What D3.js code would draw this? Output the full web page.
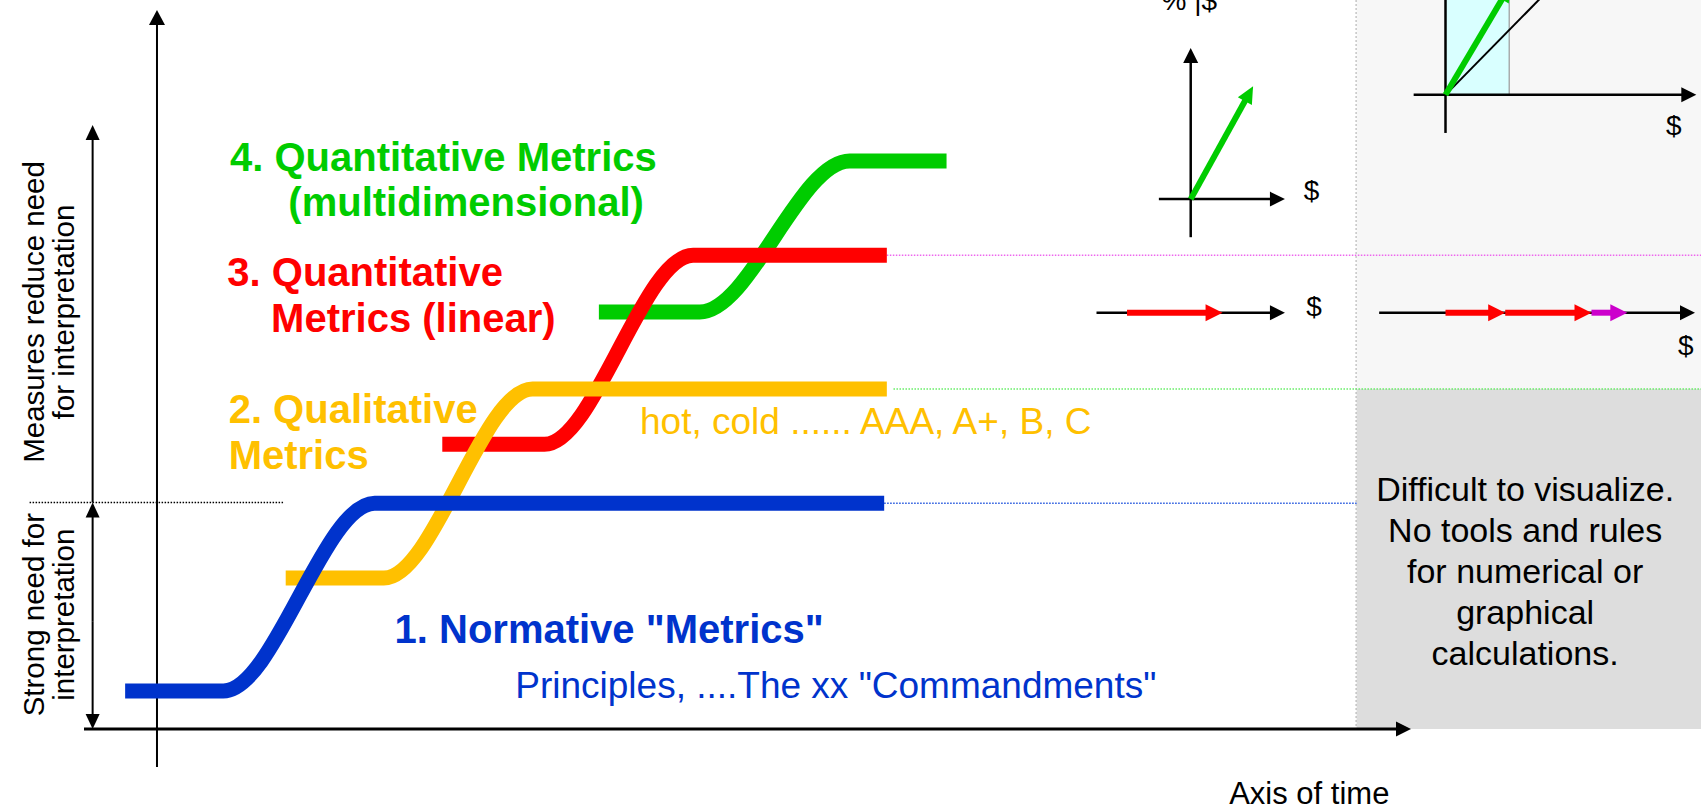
<!DOCTYPE html>
<html>
<head>
<meta charset="utf-8">
<script src="https://cdn.jsdelivr.net/npm/d3@7"></script>
<style>
  body { margin: 0; background: #fff; }
  text { font-family: "Liberation Sans", Arial, sans-serif; }
</style>
</head>
<body>
<svg id="chart"></svg>
<script>
// ---------------- data ----------------
// four stages of metrics, each one steps from a low to a high level over time
var stageColors = ["#0033cc", "#ffc000", "#ff0000", "#00cc00"];
// time points: start, bend start, bend end, end  (time axis 0..100)
var stageTimes = [
    [3.1, 10.5, 21.9, 60.3],
    [15.2, 22.6, 33.8, 60.5],
    [27.0, 34.7, 45.9, 60.5],
    [38.8, 46.4, 57.7, 65.0]
];
// level before and after the step  (vertical axis 0..100)
var stageLevels = [
    [5.3, 31.4],
    [21.0, 47.3],
    [39.6, 65.9],
    [58.0, 79.0]
];
var stageLabels = [
    ['1. Normative "Metrics"'],
    ["2. Qualitative", "Metrics"],
    ["3. Quantitative", "Metrics (linear)"],
    ["4. Quantitative Metrics", "(multidimensional)"]
];
var stageNotes = ['Principles, ....The xx "Commandments"', "hot, cold ...... AAA, A+, B, C"];

// dotted guides carried to the right from the plateaus
var guideStart = [60.3, 61.0, 60.5];
var guideLevel = [31.4, 47.3, 65.9];
var guideColors = ["#2255dd", "#66ee66", "#ee66ee"];

var interpretThreshold = 31.5;
var hardZoneStart = 95.9;
var hardZoneNote = ["Difficult to visualize.", "No tools and rules", "for numerical or", "graphical", "calculations."];

// 1-D money arrows (linear metrics)
var linearLevel = 57.9;
var linearAxisA = [76.3, 90.5];
var linearStepsA = [[78.6, 85.8]];
var linearColorsA = ["#ff0000"];
var linearAxisB = [97.6, 121.4];
var linearStepsB = [[102.6, 107.1], [107.1, 113.6], [113.6, 116.3]];
var linearColorsB = ["#ff0000", "#ff0000", "#cc00cc"];

// 2-D vector diagrams (multidimensional metrics)
var vecOriginA = [83.4, 73.7];
var vecAxisXA = [81.0, 90.5];
var vecAxisYA = [68.4, 94.7];
var vecTipA = [88.1, 89.4];

var vecOriginB = [102.6, 88.2];
var vecAxisXB = [100.2, 121.5];
var vecAxisYB = [82.9, 106];
var vecBandB = [102.6, 107.4];
var vecTipB = [107.5, 103.5];
var vecRayB = [110.0, 102.1];

// ---------------- drawing ----------------
var W = 1701, H = 809;
var svg = d3.select("#chart").attr("width", W).attr("height", H);
svg.append("rect").attr("width", W).attr("height", H).attr("fill", "#fff");

var x = d3.scaleLinear().domain([0, 100]).range([84, 1411]);
var y = d3.scaleLinear().domain([0, 100]).range([729, 10]);

// line from p1 to p2 with a filled head at p2 (pixel coords)
function arrow(g, x1, y1, x2, y2, o) {
    var a = Math.atan2(y2 - y1, x2 - x1);
    var bx = x2 - o.len * Math.cos(a), by = y2 - o.len * Math.sin(a);
    var px = -Math.sin(a) * o.half, py = Math.cos(a) * o.half;
    g.append("line")
        .attr("x1", x1).attr("y1", y1).attr("x2", bx + Math.cos(a)).attr("y2", by + Math.sin(a))
        .attr("stroke", o.color).attr("stroke-width", o.width);
    g.append("path")
        .attr("d", "M" + x2 + "," + y2 + "L" + (bx + px) + "," + (by + py) + "L" + (bx - px) + "," + (by - py) + "Z")
        .attr("fill", o.color);
}

// grey zone on the right
var zone = svg.append("g");
zone.append("rect")
    .attr("x", x(hardZoneStart)).attr("y", 0)
    .attr("width", W - x(hardZoneStart)).attr("height", y(guideLevel[1]))
    .attr("fill", "#f7f7f7");
zone.append("rect")
    .attr("x", x(hardZoneStart)).attr("y", y(guideLevel[1]))
    .attr("width", W - x(hardZoneStart)).attr("height", y(0) - y(guideLevel[1]))
    .attr("fill", "#dddddd");
zone.append("line")
    .attr("x1", x(hardZoneStart) - 0.5).attr("x2", x(hardZoneStart) - 0.5)
    .attr("y1", 0).attr("y2", y(0))
    .attr("stroke", "#aaaaaa").attr("stroke-width", 1).attr("stroke-dasharray", "2,2");
zone.selectAll("text.note")
    .data(hardZoneNote).enter().append("text")
    .attr("x", x(108.6)).attr("y", function (d, i) { return y(31.7) + i * 41; })
    .attr("text-anchor", "middle").attr("font-size", 34).attr("fill", "#000")
    .text(function (d) { return d; });

// dotted guides
guideStart.forEach(function (s, i) {
    svg.append("line")
        .attr("x1", x(s)).attr("x2", i === 0 ? x(hardZoneStart) : W)
        .attr("y1", y(guideLevel[i])).attr("y2", y(guideLevel[i]))
        .attr("stroke", guideColors[i]).attr("stroke-width", 1.5)
        .attr("stroke-dasharray", "1.5,1.5");
});
svg.append("line")
    .attr("x1", x(-4.1)).attr("x2", x(15.0))
    .attr("y1", y(interpretThreshold)).attr("y2", y(interpretThreshold))
    .attr("stroke", "#000").attr("stroke-width", 1.5).attr("stroke-dasharray", "1.5,1.5");

// axes
var ax = svg.append("g");
arrow(ax, x(0), y(0), x(100), y(0), {len: 15, half: 7.5, width: 3, color: "#000"});
arrow(ax, x(5.5), y(-5.3), x(5.5), y(100), {len: 15, half: 8, width: 2, color: "#000"});
// need-for-interpretation arrows
arrow(ax, x(0.65), y(interpretThreshold), x(0.65), y(84.0), {len: 15, half: 7, width: 2, color: "#000"});
arrow(ax, x(0.65), y(15), x(0.65), y(interpretThreshold), {len: 15, half: 7, width: 2, color: "#000"});
arrow(ax, x(0.65), y(15), x(0.65), y(0), {len: 15, half: 7, width: 2, color: "#000"});

ax.append("text")
    .attr("x", x(86.3)).attr("y", y(-10.4))
    .attr("font-size", 31).attr("fill", "#000").text("Axis of time");

var sideLabels = [
    {lines: ["Measures reduce need", "for interpretation"], level: 58.0},
    {lines: ["Strong need for", "interpretation"], level: 15.9}
];
sideLabels.forEach(function (s) {
    s.lines.forEach(function (t, i) {
        ax.append("text")
            .attr("transform", "translate(" + (i === 0 ? 44 : 74) + "," + y(s.level) + ") rotate(-90)")
            .attr("text-anchor", "middle").attr("font-size", 29.5).attr("fill", "#000")
            .text(t);
    });
});

// stage step curves (drawn back to front so blue sits on top)
var stepLine = d3.line()
    .x(function (d) { return x(d[0]); })
    .y(function (d) { return y(d[1]); })
    .curve(d3.curveMonotoneX);

var order = [3, 2, 1, 0];
order.forEach(function (i) {
    var t = stageTimes[i], lv = stageLevels[i];
    svg.append("path")
        .attr("d", stepLine([[t[0], lv[0]], [t[1], lv[0]], [t[2], lv[1]], [t[3], lv[1]]]))
        .attr("fill", "none")
        .attr("stroke", stageColors[i])
        .attr("stroke-width", 15)
        .attr("stroke-linecap", "butt");
});

// stage labels
var labelPos = [
    [[23.4, 12.0]],
    [[10.9, 42.6], [10.9, 36.2]],
    [[10.8, 61.6], [14.1, 55.2]],
    [[11.0, 77.6], [15.4, 71.3]]
];
stageLabels.forEach(function (lines, i) {
    lines.forEach(function (t, j) {
        svg.append("text")
            .attr("x", x(labelPos[i][j][0])).attr("y", y(labelPos[i][j][1]))
            .attr("font-size", 40).attr("font-weight", "bold")
            .attr("fill", stageColors[i]).text(t);
    });
});
var notePos = [[32.5, 4.3], [41.9, 41.0]];
stageNotes.forEach(function (t, i) {
    svg.append("text")
        .attr("x", x(notePos[i][0])).attr("y", y(notePos[i][1]))
        .attr("font-size", 37).attr("fill", stageColors[i]).text(t);
});

// 1-D money axes
var mini = svg.append("g");
var axisOpt = {len: 15, half: 7.5, width: 2.5, color: "#000"};
arrow(mini, x(linearAxisA[0]), y(linearLevel), x(linearAxisA[1]), y(linearLevel), axisOpt);
arrow(mini, x(linearAxisB[0]), y(linearLevel), x(linearAxisB[1]), y(linearLevel), axisOpt);
function drawSteps(steps, colors) {
    steps.forEach(function (s, i) {
        arrow(mini, x(s[0]), y(linearLevel), x(s[1]), y(linearLevel),
            {len: 17, half: 8.5, width: 6, color: colors[i]});
    });
}
drawSteps(linearStepsA, linearColorsA);
drawSteps(linearStepsB, linearColorsB);

// 2-D vector diagram A
arrow(mini, x(vecAxisXA[0]), y(vecOriginA[1]), x(vecAxisXA[1]), y(vecOriginA[1]), axisOpt);
arrow(mini, x(vecOriginA[0]), y(vecAxisYA[0]), x(vecOriginA[0]), y(vecAxisYA[1]), axisOpt);
arrow(mini, x(vecOriginA[0]), y(vecOriginA[1]), x(vecTipA[0]), y(vecTipA[1]),
    {len: 17, half: 8, width: 6, color: "#00cc00"});

// 2-D vector diagram B with band
mini.append("rect")
    .attr("x", x(vecBandB[0])).attr("y", -5)
    .attr("width", x(vecBandB[1]) - x(vecBandB[0]))
    .attr("height", y(vecOriginB[1]) + 5)
    .attr("fill", "#d9ffff");
mini.append("line")
    .attr("x1", x(vecBandB[1])).attr("x2", x(vecBandB[1]))
    .attr("y1", -5).attr("y2", y(vecOriginB[1]))
    .attr("stroke", "#999").attr("stroke-width", 1.2);
arrow(mini, x(vecAxisXB[0]), y(vecOriginB[1]), x(vecAxisXB[1]), y(vecOriginB[1]), axisOpt);
arrow(mini, x(vecOriginB[0]), y(vecAxisYB[0]), x(vecOriginB[0]), y(vecAxisYB[1]), axisOpt);
mini.append("line")
    .attr("x1", x(vecOriginB[0])).attr("y1", y(vecOriginB[1]))
    .attr("x2", x(vecRayB[0])).attr("y2", y(vecRayB[1]))
    .attr("stroke", "#000").attr("stroke-width", 2);
arrow(mini, x(vecOriginB[0]), y(vecOriginB[1]), x(vecTipB[0]), y(vecTipB[1]),
    {len: 17, half: 8, width: 6, color: "#00cc00"});

// "$" and "%" labels
var dollarPos = [[92.5, 73.6], [92.7, 57.4], [119.8, 82.6], [120.7, 52.0]];
dollarPos.forEach(function (p) {
    mini.append("text")
        .attr("x", x(p[0])).attr("y", y(p[1]))
        .attr("text-anchor", "middle").attr("font-size", 28).attr("fill", "#000")
        .text("$");
});
mini.append("text")
    .attr("x", x(81.2)).attr("y", y(100))
    .attr("font-size", 28).attr("fill", "#000")
    .text("%  |$");
</script>
</body>
</html>
